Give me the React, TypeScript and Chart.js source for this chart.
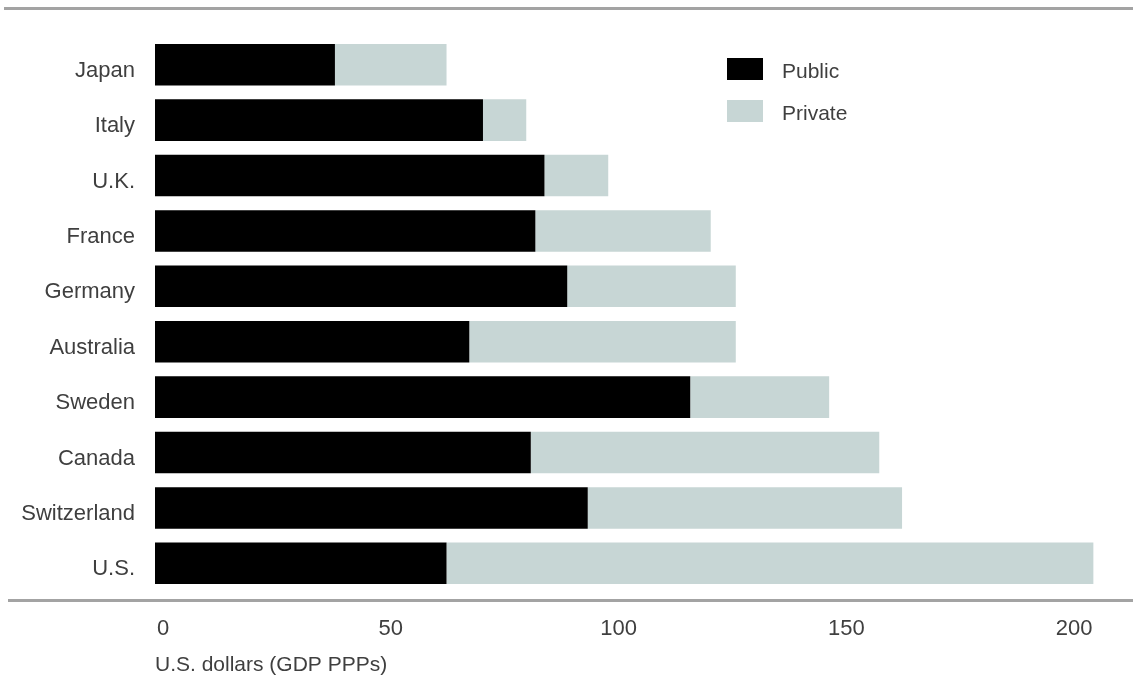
import React, { useEffect, useRef } from "react";
import { Chart, registerables } from "chart.js";

Chart.register(...registerables);

const categories = ["Japan", "Italy", "U.K.", "France", "Germany", "Australia", "Sweden", "Canada", "Switzerland", "U.S."];
const publicValues = [39.5, 72, 85.5, 83.5, 90.5, 69, 117.5, 82.5, 95, 64];
const privateValues = [24.5, 9.5, 14, 38.5, 37, 58.5, 30.5, 76.5, 69, 142];
const xTickValues = [0, 50, 100, 150, 200];
const seriesLabels = ["Public", "Private"];
const seriesColors = ["#000000", "#c7d6d5"];
const axisTitle = "U.S. dollars (GDP PPPs)";

const FONT = "'Liberation Sans', Arial, sans-serif";
const TEXT = "#3f3f3f";

const rulesPlugin = {
  id: "rules",
  afterDraw(chart: any) {
    const ctx = chart.ctx;
    ctx.save();
    ctx.fillStyle = "#a3a3a3";
    ctx.fillRect(4, 7, chart.width - 4, 3);
    ctx.fillRect(8, 599, chart.width - 8, 3);
    ctx.restore();
  },
};

const legendPlugin = {
  id: "customLegend",
  afterDraw(chart: any) {
    const ctx = chart.ctx;
    ctx.save();
    chart.data.datasets.forEach((ds: any, i: number) => {
      const y = 58 + i * 42;
      ctx.fillStyle = ds.backgroundColor;
      ctx.fillRect(727, y, 36, 22);
      ctx.fillStyle = TEXT;
      ctx.font = `21px ${FONT}`;
      ctx.textBaseline = "middle";
      ctx.textAlign = "left";
      ctx.fillText(ds.label, 782, y + 14);
    });
    ctx.restore();
  },
};

export default function App() {
  const ref = useRef<HTMLCanvasElement | null>(null);

  useEffect(() => {
    document.body.style.margin = "0";
    if (!ref.current) return;
    const chart = new Chart(ref.current, {
      type: "bar",
      data: {
        labels: categories,
        datasets: [
          { label: seriesLabels[0], data: publicValues, backgroundColor: seriesColors[0], borderWidth: 0 },
          { label: seriesLabels[1], data: privateValues, backgroundColor: seriesColors[1], borderWidth: 0 },
        ],
      },
      options: {
        indexAxis: "y",
        responsive: false,
        animation: false,
        layout: { padding: { top: 37, left: 0, right: 0, bottom: 0 } },
        plugins: {
          legend: { display: false },
          tooltip: { enabled: false },
        },
        scales: {
          x: {
            stacked: true,
            min: 0,
            max: 214.7,
            grid: { display: false, drawTicks: false },
            border: { display: false },
            afterBuildTicks: (scale: any) => {
              scale.ticks = xTickValues.map((v) => ({ value: v }));
            },
            afterFit: (scale: any) => {
              scale.height = 91;
            },
            ticks: {
              color: TEXT,
              font: { family: FONT, size: 22 },
              padding: 25,
              labelOffset: 8,
              maxRotation: 0,
            },
            title: {
              display: true,
              text: axisTitle,
              align: "start",
              color: TEXT,
              font: { family: FONT, size: 21 },
              padding: { top: 0, bottom: 4 },
            },
          },
          y: {
            stacked: true,
            grid: { display: false, drawTicks: false },
            border: { display: false },
            afterFit: (scale: any) => {
              scale.width = 155;
            },
            ticks: {
              color: TEXT,
              font: { family: FONT, size: 22 },
              padding: 20,
              labelOffset: 6,
            },
          },
        },
        datasets: {
          bar: { barPercentage: 0.75, categoryPercentage: 1 },
        },
      } as any,
      plugins: [rulesPlugin, legendPlugin],
    });
    return () => chart.destroy();
  }, []);

  return (
    <div style={{ position: "absolute", left: 0, top: 0, width: 1133, height: 682 }}>
      <canvas ref={ref} width={1133} height={682} style={{ display: "block" }} />
    </div>
  );
}
